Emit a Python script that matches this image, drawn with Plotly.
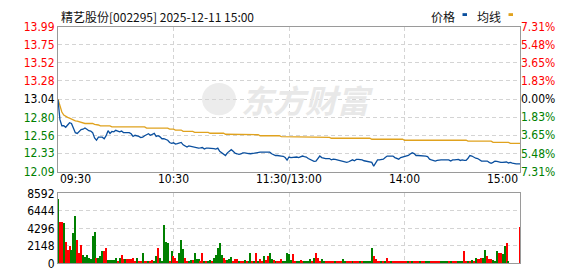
import plotly.graph_objects as go

W, H = 578, 276

title_text = "精艺股份[002295] 2025-12-11 15:00"
legend_names = ["价格", "均线"]
x_tick_vals = [0, 60, 120, 180, 240]
x_tick_text = ["09:30", "10:30", "11:30/13:00", "14:00", "15:00"]
prev_close = 13.04
price_ticks = [13.99, 13.75, 13.52, 13.28, 13.04, 12.80, 12.56, 12.33, 12.09]
pct_ticks = [7.31, 5.48, 3.65, 1.83, 0.00, -1.83, -3.65, -5.48, -7.31]
vol_ticks = [0, 2148, 4296, 6444, 8592]

price = [
    13.03, 12.77, 12.69, 12.69, 12.67, 12.70, 12.73, 12.72, 12.66, 12.60,
    12.59, 12.62, 12.64, 12.645, 12.66, 12.645, 12.625, 12.62, 12.60, 12.53,
    12.50, 12.54, 12.54, 12.54, 12.52, 12.56, 12.625, 12.59, 12.615, 12.61,
    12.63, 12.62, 12.61, 12.62, 12.60, 12.60, 12.60, 12.60, 12.585, 12.55,
    12.565, 12.56, 12.55, 12.535, 12.54, 12.56, 12.575, 12.585, 12.565, 12.575,
    12.59, 12.55, 12.56, 12.545, 12.52, 12.52, 12.51, 12.50, 12.47, 12.46,
    12.467, 12.451, 12.455, 12.46, 12.472, 12.44, 12.42, 12.41, 12.426, 12.42,
    12.418, 12.41, 12.41, 12.397, 12.40, 12.405, 12.385, 12.397, 12.397, 12.397,
    12.39, 12.39, 12.385, 12.397, 12.355, 12.335, 12.32, 12.30, 12.335, 12.355,
    12.376, 12.355, 12.33, 12.323, 12.314, 12.32, 12.335, 12.335, 12.335, 12.326,
    12.323, 12.323, 12.33, 12.335, 12.343, 12.343, 12.343, 12.343, 12.343, 12.343,
    12.343, 12.323, 12.31, 12.30, 12.30, 12.30, 12.293, 12.29, 12.273, 12.24,
    12.28, 12.273, 12.275, 12.28, 12.28, 12.273, 12.285, 12.293, 12.285, 12.28,
    12.26, 12.25, 12.243, 12.223, 12.227, 12.264, 12.293, 12.273, 12.264, 12.26,
    12.26, 12.26, 12.243, 12.252, 12.248, 12.243, 12.235, 12.231, 12.227, 12.215,
    12.21, 12.218, 12.231, 12.243, 12.231, 12.248, 12.248, 12.248, 12.243, 12.231,
    12.227, 12.223, 12.218, 12.21, 12.16, 12.21, 12.243, 12.243, 12.243, 12.252,
    12.273, 12.293, 12.293, 12.29, 12.293, 12.273, 12.264, 12.252, 12.273, 12.28,
    12.285, 12.293, 12.30, 12.32, 12.335, 12.326, 12.30, 12.30, 12.30, 12.293,
    12.30, 12.293, 12.285, 12.252, 12.243, 12.235, 12.227, 12.235, 12.243, 12.243,
    12.243, 12.243, 12.235, 12.243, 12.227, 12.243, 12.243, 12.243, 12.248, 12.235,
    12.243, 12.235, 12.235, 12.264, 12.30, 12.293, 12.276, 12.264, 12.26, 12.243,
    12.227, 12.227, 12.227, 12.227, 12.21, 12.198, 12.21, 12.227, 12.223, 12.215,
    12.21, 12.21, 12.215, 12.215, 12.202, 12.21, 12.20, 12.19, 12.19, 12.19,
    12.19,
]

avg_price = [
    13.04, 12.96, 12.87, 12.83, 12.812, 12.80, 12.79, 12.775, 12.77, 12.755,
    12.75, 12.74, 12.73, 12.72, 12.72, 12.72, 12.72, 12.72, 12.72, 12.708,
    12.708, 12.70, 12.688, 12.688, 12.688, 12.688, 12.688, 12.688, 12.675, 12.675,
    12.675, 12.675, 12.675, 12.675, 12.675, 12.675, 12.675, 12.675, 12.675, 12.675,
    12.675, 12.675, 12.675, 12.675, 12.675, 12.675, 12.659, 12.659, 12.659, 12.659,
    12.659, 12.659, 12.659, 12.659, 12.659, 12.659, 12.659, 12.659, 12.646, 12.646,
    12.646, 12.634, 12.634, 12.634, 12.634, 12.617, 12.617, 12.617, 12.617, 12.617,
    12.617, 12.604, 12.604, 12.604, 12.604, 12.604, 12.604, 12.604, 12.604, 12.592,
    12.592, 12.592, 12.592, 12.592, 12.592, 12.592, 12.592, 12.579, 12.579, 12.579,
    12.579, 12.579, 12.579, 12.579, 12.572, 12.572, 12.572, 12.572, 12.572, 12.572,
    12.572, 12.572, 12.572, 12.572, 12.572, 12.559, 12.559, 12.559, 12.559, 12.559,
    12.559, 12.559, 12.559, 12.559, 12.559, 12.559, 12.547, 12.547, 12.547, 12.547,
    12.547, 12.547, 12.547, 12.547, 12.547, 12.547, 12.547, 12.538, 12.538, 12.538,
    12.538, 12.538, 12.538, 12.538, 12.538, 12.538, 12.538, 12.538, 12.538, 12.538,
    12.538, 12.538, 12.526, 12.526, 12.526, 12.526, 12.526, 12.526, 12.526, 12.526,
    12.526, 12.526, 12.526, 12.526, 12.526, 12.526, 12.526, 12.526, 12.526, 12.526,
    12.526, 12.526, 12.526, 12.513, 12.513, 12.513, 12.513, 12.513, 12.513, 12.513,
    12.513, 12.513, 12.513, 12.513, 12.513, 12.513, 12.513, 12.513, 12.513, 12.513,
    12.50, 12.50, 12.50, 12.50, 12.50, 12.50, 12.50, 12.50, 12.50, 12.50,
    12.50, 12.50, 12.50, 12.50, 12.50, 12.50, 12.50, 12.50, 12.50, 12.50,
    12.50, 12.50, 12.50, 12.50, 12.50, 12.50, 12.50, 12.50, 12.50, 12.50,
    12.50, 12.50, 12.50, 12.488, 12.488, 12.488, 12.488, 12.488, 12.488, 12.488,
    12.488, 12.488, 12.488, 12.488, 12.488, 12.488, 12.472, 12.472, 12.472, 12.472,
    12.472, 12.472, 12.472, 12.472, 12.472, 12.46, 12.46, 12.46, 12.46, 12.46,
    12.46,
]

volume = [
    7900, 4980, 4980, 4900, 2570, 1630, 2140, 1630, 3730, 5720,
    2800, 1280, 2260, 970, 700, 970, 580, 500, 3270, 3850,
    580, 620, 890, 1520, 1480, 1830, 390, 350, 350, 350,
    580, 230, 580, 930, 430, 470, 470, 470, 540, 660,
    230, 660, 230, 270, 1170, 195, 200, 150, 200, 390,
    200, 890, 1870, 580, 195, 4630, 2600, 2450, 270, 1520,
    860, 580, 270, 1170, 2800, 1710, 580, 270, 270, 350,
    350, 1280, 540, 430, 270, 1280, 270, 195, 195, 390,
    195, 580, 1000, 1870, 2450, 1000, 660, 390, 350, 430,
    700, 195, 470, 470, 195, 195, 195, 350, 195, 195,
    1170, 270, 195, 1280, 195, 430, 195, 890, 350, 890,
    1170, 500, 390, 195, 195, 195, 470, 195, 195, 1280,
    1050, 390, 1050, 120, 120, 150, 350, 120, 120, 120,
    195, 470, 120, 580, 1280, 580, 195, 470, 120, 120,
    120, 230, 150, 120, 270, 120, 120, 120, 470, 270,
    120, 120, 230, 120, 120, 195, 120, 120, 120, 120,
    120, 120, 120, 1870, 820, 470, 120, 120, 120, 230,
    120, 660, 120, 120, 120, 120, 120, 120, 120, 120,
    270, 120, 120, 120, 230, 120, 120, 120, 120, 230,
    120, 120, 120, 230, 120, 120, 120, 120, 120, 120,
    120, 120, 120, 120, 120, 120, 120, 120, 120, 120,
    120, 1520, 270, 120, 120, 350, 120, 580, 470, 470,
    580, 580, 1630, 820, 470, 470, 350, 270, 1520, 1280,
    1280, 1050, 2100, 2450, 120, 0, 0, 0, 0, 0,
    4430,
]

# 1 = up (red), 0 = down (green)
vol_up = [
    0, 1, 1, 0, 1, 1, 1, 0, 0, 0,
    1, 1, 1, 0, 0, 0, 0, 0, 0, 0,
    1, 0, 0, 0, 1, 1, 0, 0, 0, 0,
    0, 1, 0, 1, 1, 0, 1, 1, 1, 1,
    1, 0, 1, 1, 0, 1, 1, 0, 1, 1,
    0, 0, 1, 0, 0, 0, 0, 0, 1, 0,
    1, 1, 1, 0, 0, 0, 1, 1, 0, 0,
    1, 0, 0, 0, 1, 1, 0, 1, 0, 0,
    1, 0, 0, 0, 0, 0, 1, 1, 0, 0,
    0, 1, 1, 1, 0, 1, 1, 0, 1, 0,
    0, 1, 0, 1, 0, 1, 1, 0, 1, 1,
    0, 0, 1, 0, 1, 1, 1, 0, 0, 0,
    0, 0, 1, 1, 0, 0, 1, 1, 0, 0,
    0, 0, 1, 0, 1, 1, 1, 0, 0, 1,
    1, 1, 1, 1, 0, 1, 1, 1, 0, 0,
    1, 1, 1, 0, 1, 1, 1, 0, 1, 0,
    0, 0, 0, 0, 1, 1, 1, 1, 0, 1,
    0, 1, 1, 0, 1, 1, 1, 1, 1, 1,
    1, 1, 0, 1, 0, 1, 1, 1, 0, 1,
    1, 0, 0, 0, 1, 1, 1, 1, 1, 0,
    0, 0, 0, 1, 0, 1, 1, 1, 0, 0,
    0, 1, 1, 0, 1, 0, 1, 0, 1, 1,
    1, 0, 0, 1, 1, 1, 0, 0, 0, 1,
    1, 0, 0, 1, 0, 0, 0, 0, 0, 0,
    1,
]

RED = "#ff0000"
GREEN = "#008000"
BLACK = "#000000"
BLUE = "#0a4f9e"
GOLD = "#e0a21e"
GRID = "#d4d4d4"
BORDER = "#9a9a9a"
NUM_FONT = "DejaVu Sans Condensed, DejaVu Sans, sans-serif"
CJK_FONT = "Noto Sans CJK SC, sans-serif"

minutes = list(range(len(price)))


def colored(val, text):
    if val > prev_close + 1e-9:
        c = RED
    elif val < prev_close - 1e-9:
        c = GREEN
    else:
        c = BLACK
    return f'<span style="color:{c}">{text}</span>'


price_text = [colored(v, f"{v:.2f}") for v in price_ticks]
pct_text = []
for p in pct_ticks:
    c = RED if p > 0 else (GREEN if p < 0 else BLACK)
    pct_text.append(f'<span style="color:{c}">{abs(p):.2f}%</span>')

# pixel layout
X0, X1 = 58, 520
PY0, PY1 = 20.7, 173.3
VY0, VY1 = 196.3, 270.0


def px_x(v):
    return v / W


def px_y(v):
    return 1 - v / H


fig = go.Figure()

fig.add_trace(go.Scatter(
    x=minutes, y=avg_price, mode="lines", line=dict(color=GOLD, width=1.3),
    xaxis="x", yaxis="y", hoverinfo="skip", showlegend=False))
fig.add_trace(go.Scatter(
    x=minutes, y=price, mode="lines", line=dict(color=BLUE, width=1.3),
    xaxis="x", yaxis="y", hoverinfo="skip", showlegend=False))

bar_colors = [RED if u else GREEN for u in vol_up]
fig.add_trace(go.Bar(
    x=minutes, y=volume, marker=dict(color=bar_colors, line=dict(width=0)),
    width=0.55, xaxis="x2", yaxis="y2", hoverinfo="skip", showlegend=False))

# invisible trace to activate right percent axis
fig.add_trace(go.Scatter(
    x=[0, 240], y=[pct_ticks[0], pct_ticks[-1]], mode="markers",
    marker=dict(opacity=0), xaxis="x", yaxis="y3", hoverinfo="skip",
    showlegend=False))

xdom = [px_x(X0), px_x(X1)]
common_x = dict(
    domain=xdom, range=[0, 240], tickvals=x_tick_vals, showticklabels=False,
    showgrid=True, gridcolor=GRID, griddash="4px,3px", gridwidth=1,
    zeroline=False, showline=True, linecolor=BORDER, linewidth=1, mirror=True,
    ticks="", fixedrange=True)

fig.update_layout(
    width=W, height=H, margin=dict(l=0, r=0, t=0, b=0),
    paper_bgcolor="white", plot_bgcolor="white", bargap=0,
    xaxis=dict(anchor="y", **common_x),
    xaxis2=dict(anchor="y2", **common_x),
    yaxis=dict(
        domain=[px_y(PY1), px_y(PY0)], range=[price_ticks[-1], price_ticks[0]],
        tickvals=price_ticks, ticktext=price_text, showgrid=True,
        gridcolor=GRID, griddash="4px,3px", zeroline=False, showline=True,
        linecolor=BORDER, mirror=True, ticks="",
        tickfont=dict(family=NUM_FONT, size=12), anchor="x"),
    yaxis3=dict(
        overlaying="y", side="right", anchor="x",
        range=[pct_ticks[-1], pct_ticks[0]], tickvals=pct_ticks,
        ticktext=pct_text, showgrid=False, zeroline=False, showline=False,
        ticks="", tickfont=dict(family=NUM_FONT, size=12)),
    yaxis2=dict(
        domain=[px_y(VY1), px_y(VY0)], range=[vol_ticks[0], vol_ticks[-1]],
        tickvals=vol_ticks, ticktext=[str(v) for v in vol_ticks],
        showgrid=True, gridcolor=GRID, griddash="4px,3px", zeroline=False,
        showline=True, linecolor=BORDER, mirror=True, ticks="",
        tickfont=dict(family=NUM_FONT, size=12, color=BLACK), anchor="x2"),
)

annotations = []
# title
annotations.append(dict(
    text=title_text, xref="paper", yref="paper", x=px_x(59), y=px_y(9.5),
    xanchor="left", yanchor="middle", showarrow=False,
    font=dict(family=CJK_FONT, size=12, color="#111111")))
# legend texts
annotations.append(dict(
    text=legend_names[0], xref="paper", yref="paper", x=px_x(443), y=px_y(9.5),
    xanchor="center", yanchor="middle", showarrow=False,
    font=dict(family=CJK_FONT, size=12, color="#111111")))
annotations.append(dict(
    text=legend_names[1], xref="paper", yref="paper", x=px_x(488.5), y=px_y(9.5),
    xanchor="center", yanchor="middle", showarrow=False,
    font=dict(family=CJK_FONT, size=12, color="#111111")))
# watermark
annotations.append(dict(
    text="东方财富", xref="paper", yref="paper", x=px_x(308), y=px_y(97),
    xanchor="center", yanchor="middle", showarrow=False,
    font=dict(family=CJK_FONT, size=32, color="#e8e8e8", weight="bold",
              style="italic")))
# x tick labels
for v, t in zip(x_tick_vals, x_tick_text):
    if v == x_tick_vals[0]:
        anc = "left"
    elif v == x_tick_vals[-1]:
        anc = "right"
    else:
        anc = "center"
    annotations.append(dict(
        text=t, xref="x", yref="paper", x=v, y=px_y(181.5), xanchor=anc,
        yanchor="middle", showarrow=False,
        font=dict(family=NUM_FONT, size=12, color=BLACK)))
fig.update_layout(annotations=annotations)

shapes = [
    dict(type="rect", xref="paper", yref="paper", x0=px_x(462.5), x1=px_x(467),
         y0=px_y(9.5), y1=px_y(6.5), fillcolor=BLUE, line=dict(width=0)),
    dict(type="rect", xref="paper", yref="paper", x0=px_x(508.5), x1=px_x(513),
         y0=px_y(9.5), y1=px_y(6.5), fillcolor=GOLD, line=dict(width=0)),
    # watermark emblem
    dict(type="circle", xref="paper", yref="paper", x0=px_x(202), x1=px_x(236),
         y0=px_y(114), y1=px_y(80), fillcolor="#ececec", line=dict(width=0),
         layer="below"),
]
fig.update_layout(shapes=shapes)

fig.write_html("out.html")
